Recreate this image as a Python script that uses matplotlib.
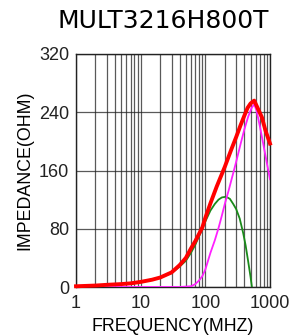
import matplotlib
matplotlib.use("Agg")
import matplotlib.pyplot as plt
from matplotlib.ticker import FixedLocator, NullFormatter

# |Z| (red)
freq_z = [1, 2, 3, 5, 7, 10, 15, 20, 30, 40, 50, 60, 70, 80, 90, 100, 120,
          150, 200, 250, 300, 350, 400, 450, 500, 570, 650, 750, 850, 1000]
imp_z = [1, 2, 3, 4, 5, 7, 10, 13, 20, 30, 40, 53, 63, 73, 82, 95, 115,
         138, 165, 188, 206, 222, 235, 246, 252, 256, 245, 233, 215, 197]

# R (magenta)
freq_r = [1, 10, 40, 60, 70, 80, 90, 100, 120, 140, 160, 180, 200, 230, 260,
          300, 350, 400, 460, 520, 570, 620, 700, 800, 900, 1000]
imp_r = [0, 0, 0, 1, 4, 9, 15, 24, 47, 64, 81, 98, 114, 133, 151,
         172, 196, 216, 234, 246, 251, 242, 220, 193, 169, 148]

# X (green)
freq_x = [1, 2, 5, 10, 20, 30, 40, 50, 60, 70, 80, 90, 100, 120, 140, 160,
          180, 210, 240, 270, 300, 340, 385, 420, 460, 500, 525]
imp_x = [1, 2, 4, 7, 13, 19, 28, 36, 47, 58, 70, 80, 90, 105, 114, 120,
         123, 124, 121, 114, 107, 94, 74, 57, 35, 14, 0]

y_ticks = [0, 80, 160, 240, 320]
x_ticks = [1, 10, 100, 1000]
x_labels = ["1", "10", "100", "1000"]

fig = plt.figure(figsize=(2.94, 3.36), dpi=100)
ax = fig.add_axes([76 / 294, 49 / 336, 194 / 294, 233 / 336])

ax.plot(freq_x, imp_x, color="#1a8a1a", lw=1.3, zorder=3)
ax.plot(freq_r, imp_r, color="#ff20ff", lw=1.3, zorder=4)
ax.plot(freq_z, imp_z, color="#ff0000", lw=2.8, zorder=5, clip_on=False)

ax.set_xscale("log")
ax.set_xlim(1, 1000)
ax.set_ylim(0, 320)
ax.set_yticks(y_ticks)
ax.set_xticks(x_ticks)
ax.set_xticklabels(x_labels)
minors = [m * 10 ** d for d in range(3) for m in range(2, 10)]
ax.xaxis.set_minor_locator(FixedLocator(minors))
ax.xaxis.set_minor_formatter(NullFormatter())
ax.grid(True, which="both", axis="x", color="#222222", lw=0.9, alpha=0.75)
ax.grid(True, which="major", axis="y", color="#222222", lw=0.9, alpha=0.75)
ax.tick_params(which="both", length=0, labelsize=13, colors="#222222")
ax.tick_params(axis="x", pad=6)
ax.tick_params(axis="y", pad=5)
for lab in ax.get_xticklabels() + ax.get_yticklabels():
    lab.set_family("Liberation Sans")
for s in ax.spines.values():
    s.set_color("#222222")
    s.set_linewidth(1.0)

ax.set_xlabel("FREQUENCY(MHZ)", fontsize=12.8, family="Liberation Sans", labelpad=4)
ax.set_ylabel("IMPEDANCE(OHM)", fontsize=12.8, family="Liberation Sans", labelpad=4)
fig.text(163 / 294, 1 - 20.5 / 336, "MULT3216H800T", fontsize=18,
         family="DejaVu Sans", ha="center", va="center")

fig.savefig("out.png", dpi=100)
